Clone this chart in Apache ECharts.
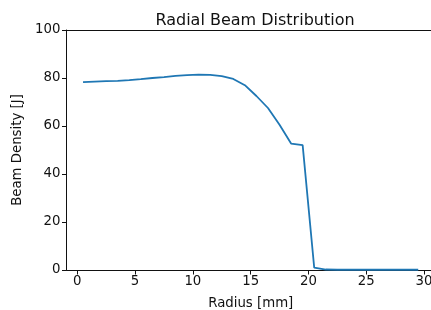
<!DOCTYPE html>
<html><head><meta charset="utf-8">
<script src="https://cdn.jsdelivr.net/npm/echarts@6/dist/echarts.min.js"></script>
<style>html,body{margin:0;padding:0;background:#fff}#c{width:431px;height:310px}</style>
</head><body><div id="c"></div>
<script>
var radius = [0.5,1.5,2.5,3.5,4.5,5.5,6.5,7.5,8.5,9.5,10.5,11.5,12.5,13.5,14.5,15.5,16.5,17.5,18.5,19.5,20.5,21.5,22.5,23.5,24.5,25.5,26.5,27.5,28.5,29.5];
var density = [78.3,78.5,78.7,78.8,79.1,79.5,80.0,80.4,80.9,81.2,81.4,81.3,80.8,79.6,77.0,72.5,67.5,60.5,52.7,52.0,1.0,0.2,0.1,0.1,0.1,0.1,0.1,0.1,0.1,0.1];
var xTicks = [0,5,10,15,20,25,30];
var yTicks = [0,20,40,60,80,100];

var font = 'DejaVu Sans';
var chart = echarts.init(document.getElementById('c'), null, {renderer:'canvas'});
var axisCol = '#111';
var txt = '#111';
chart.setOption({
  animation:false,
  title:{text:'Radial Beam Distribution', left:250, top:8, textAlign:'center',
    textStyle:{fontFamily:font, fontSize:16, fontWeight:'normal', color:txt}},
  grid:{left:66.5, right:-4, top:30, bottom:40, outerBoundsMode:'none', containLabel:false},
  xAxis:[{type:'value', min:-0.93, max:30.95, interval:5,
    name:'Radius [mm]', nameLocation:'middle', nameGap:27,
    nameTextStyle:{fontFamily:font, fontSize:13.3, color:txt},
    axisLine:{show:true, onZero:false, lineStyle:{color:axisCol, width:1}},
    axisTick:{show:true, length:4.5, lineStyle:{color:axisCol}, customValues:xTicks},
    axisLabel:{fontFamily:font, fontSize:13.3, color:txt, margin:5, customValues:xTicks},
    splitLine:{show:false}},
   {type:'value', position:'top', min:-0.93, max:30.95,
    axisLine:{show:true, onZero:false, lineStyle:{color:axisCol, width:1}},
    axisTick:{show:false}, axisLabel:{show:false}, splitLine:{show:false}}],
  yAxis:{type:'value', min:0, max:100, interval:20,
    name:'Beam Density [J]', nameLocation:'middle', nameGap:39.5,
    nameTextStyle:{fontFamily:font, fontSize:13.3, color:txt},
    axisLine:{show:true, onZero:false, lineStyle:{color:axisCol, width:1}},
    axisTick:{show:true, length:4.5, lineStyle:{color:axisCol}},
    axisLabel:{fontFamily:font, fontSize:13.3, color:txt, margin:6},
    splitLine:{show:false}},
  series:[{type:'line', xAxisIndex:0, data:radius.map(function(r,i){return [r,density[i]];}),
    showSymbol:false, lineStyle:{color:'#1f77b4', width:1.8}, itemStyle:{color:'#1f77b4'}}]
});
</script></body></html>
